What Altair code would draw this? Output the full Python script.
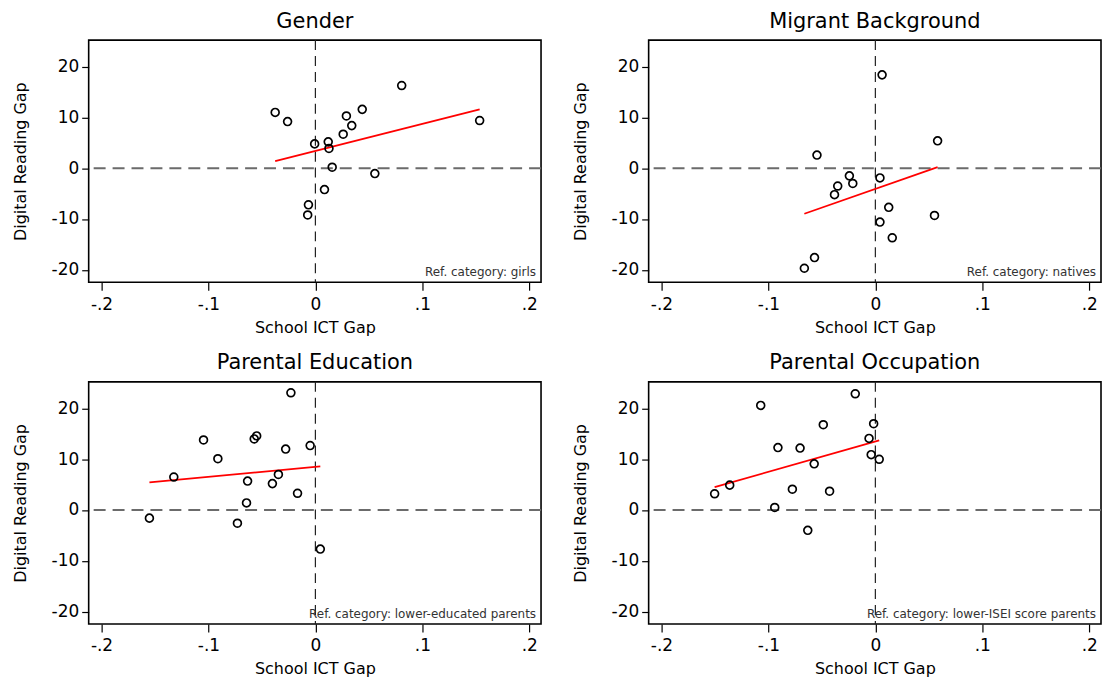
import altair as alt
import pandas as pd

# ---- data ----
gender_x = [-0.0376, -0.026, -0.0007, 0.012, 0.0127, 0.0157, 0.026, 0.029, 0.034, 0.0438,
            0.0556, 0.0807, 0.1536, 0.0085, -0.0065, -0.0072]
gender_y = [11.0, 9.2, 4.8, 5.2, 3.9, 0.2, 6.7, 10.3, 8.4, 11.6,
            -1.05, 16.3, 9.4, -4.2, -7.2, -9.2]

migrant_x = [0.0063, 0.0582, -0.0546, -0.0243, 0.0043, -0.0352, -0.0211, -0.0382, 0.0125,
             0.0553, 0.0043, 0.0158, -0.0569, -0.0664]
migrant_y = [18.4, 5.4, 2.6, -1.5, -1.9, -3.5, -3.0, -5.2, -7.7,
             -9.3, -10.6, -13.7, -17.6, -19.7]

educ_x = [-0.0229, -0.1046, -0.0549, -0.0572, -0.0049, -0.0278, -0.0912, -0.1324, -0.0346,
          -0.0634, -0.0402, -0.0167, -0.0644, -0.1552, -0.0729, 0.0046]
educ_y = [23.1, 13.8, 14.6, 14.0, 12.7, 12.0, 10.1, 6.5, 7.0,
          5.7, 5.2, 3.3, 1.4, -1.6, -2.6, -7.7]

occ_x = [-0.0188, -0.1072, -0.0487, -0.0016, -0.0059, -0.0911, -0.0704, -0.0039, 0.0036,
         -0.0572, -0.1362, -0.0776, -0.0428, -0.1503, -0.0941, -0.0632]
occ_y = [22.9, 20.6, 16.8, 17.0, 14.1, 12.3, 12.2, 10.9, 10.0,
         9.1, 4.9, 4.1, 3.7, 3.2, 0.5, -4.0]

titles = ["Gender", "Migrant Background", "Parental Education", "Parental Occupation"]
refs = ["Ref. category: girls", "Ref. category: natives",
        "Ref. category: lower-educated parents", "Ref. category: lower-ISEI score parents"]
x_ticks = [-0.2, -0.1, 0, 0.1, 0.2]
y_ticks = [-20, -10, 0, 10, 20]
x_domain = [-0.212, 0.211]
y_domain = [-22.45, 25.25]

W, H = 454, 243
FONT = "DejaVu Sans"


def panel(title, xs, ys, ref):
    df = pd.DataFrame({"x": xs, "y": ys})
    xs_ = alt.Scale(domain=x_domain, nice=False, zero=False)
    ys_ = alt.Scale(domain=y_domain, nice=False, zero=False)
    xaxis = alt.Axis(values=x_ticks, title="School ICT Gap", grid=False, domain=False,
                     tickSize=8, tickColor="black", tickWidth=1.2,
                     labelExpr="datum.value == 0 ? '0' : (datum.value < 0 ? '-' : '') + '.' + round(abs(datum.value) * 10)",
                     labelFont=FONT, labelFontSize=17, labelColor="black", labelPadding=6,
                     titleFont=FONT, titleFontSize=16, titleFontWeight="normal", titleColor="black",
                     titlePadding=7, labelFlush=False)
    yaxis = alt.Axis(values=y_ticks, title="Digital Reading Gap", grid=False, domain=False,
                     tickSize=7, tickColor="black", tickWidth=1.2,
                     labelExpr="(datum.value < 0 ? '-' : '') + abs(datum.value)",
                     labelFont=FONT, labelFontSize=17, labelColor="black", labelPadding=3,
                     titleFont=FONT, titleFontSize=16, titleFontWeight="normal", titleColor="black",
                     titlePadding=23, labelFlush=False)
    zero = pd.DataFrame({"z": [0]})
    vline = alt.Chart(zero).mark_rule(color="#222222", strokeWidth=1.2, strokeDash=[10, 6]).encode(
        x=alt.X("z:Q", scale=xs_, axis=xaxis))
    hline = alt.Chart(zero).mark_rule(color="#6b6b6b", strokeWidth=2, strokeDash=[12, 7]).encode(
        y=alt.Y("z:Q", scale=ys_, axis=yaxis))
    fit = alt.Chart(df).transform_regression("x", "y").mark_line(color="#ff0000", strokeWidth=1.8).encode(
        x=alt.X("x:Q", scale=xs_, axis=xaxis), y=alt.Y("y:Q", scale=ys_, axis=yaxis))
    pts = alt.Chart(df).mark_point(shape="circle", filled=False, color="black", size=62,
                                   strokeWidth=1.7, opacity=1).encode(
        x=alt.X("x:Q", scale=xs_, axis=xaxis), y=alt.Y("y:Q", scale=ys_, axis=yaxis))
    note = alt.Chart(pd.DataFrame({"t": [ref]})).mark_text(
        align="right", baseline="alphabetic", font=FONT, fontSize=12, color="#333333").encode(
        text="t:N", x=alt.value(W - 5), y=alt.value(H - 6))
    return alt.layer(vline, hline, fit, pts, note).properties(
        width=W, height=H,
        title=alt.TitleParams(text=title, font=FONT, fontSize=21, fontWeight="normal",
                              color="black", anchor="middle", frame="group", offset=8))


p1 = panel(titles[0], gender_x, gender_y, refs[0])
p2 = panel(titles[1], migrant_x, migrant_y, refs[1])
p3 = panel(titles[2], educ_x, educ_y, refs[2])
p4 = panel(titles[3], occ_x, occ_y, refs[3])

chart = alt.vconcat(
    alt.hconcat(p1, p2, spacing=28),
    alt.hconcat(p3, p4, spacing=28),
    spacing=15,
).properties(
    padding={"left": 11, "top": 8, "right": 0, "bottom": 0},
    background="white",
).configure_view(stroke="black", strokeWidth=1.6)

chart.save("out.html", embed_options={"renderer": "svg", "actions": False})
